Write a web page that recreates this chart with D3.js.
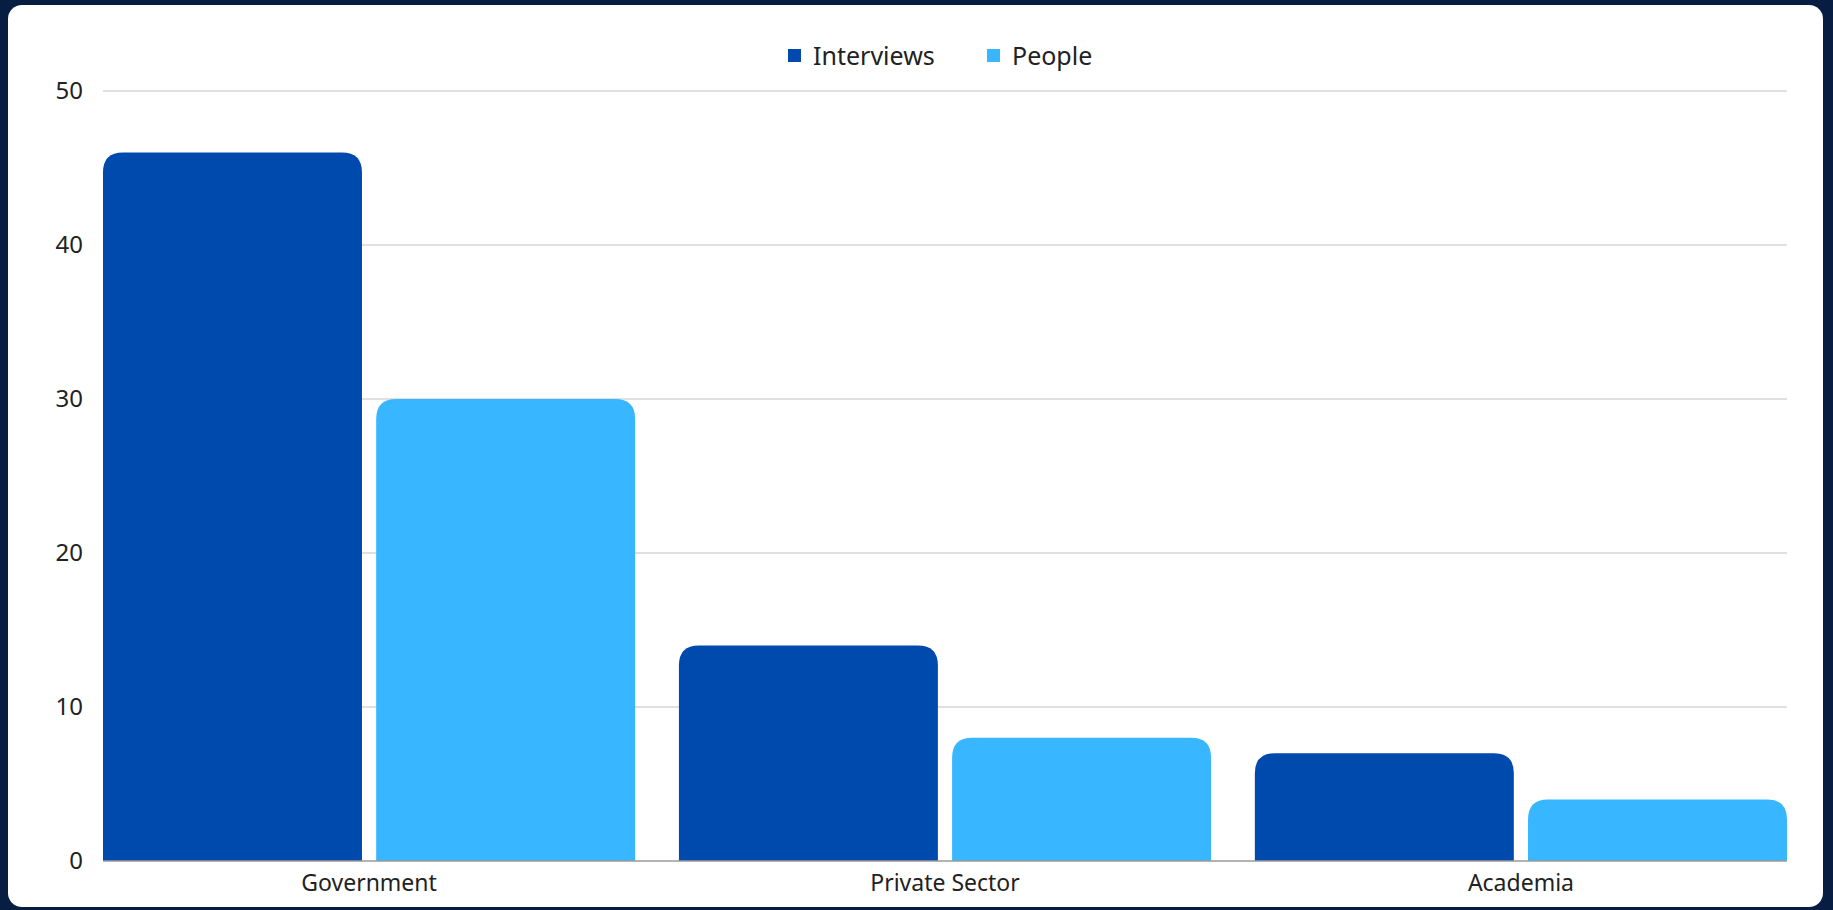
<!DOCTYPE html>
<html>
<head>
<meta charset="utf-8">
<script src="https://cdn.jsdelivr.net/npm/d3@7"></script>
<style>
  html, body { margin: 0; padding: 0; background: #081d42; }
  svg { display: block; font-family: "Noto Sans", "Open Sans", sans-serif; }
</style>
</head>
<body>
<div id="chart"></div>
<script>
const categories = ['Government', 'Private Sector', 'Academia'];
const seriesNames = ['Interviews', 'People'];
const interviews = [46, 14, 7];
const people = [30, 8, 4];
const yTicks = [0, 10, 20, 30, 40, 50];

const colors = ['#004aad', '#38b6ff'];

const width = 1833;
const height = 910;
const margin = { top: 91, right: 46, bottom: 49, left: 103 };
const chartWidth = width - margin.left - margin.right;
const chartHeight = height - margin.top - margin.bottom;

const rows = categories.map((c, i) => ({ category: c, values: [interviews[i], people[i]] }));

const svg = d3.select('#chart')
  .append('svg')
  .attr('width', width)
  .attr('height', height);

// white card
svg.append('rect')
  .attr('x', 8)
  .attr('y', 5)
  .attr('width', 1815)
  .attr('height', 902)
  .attr('rx', 14)
  .attr('fill', '#ffffff');

const g = svg.append('g')
  .attr('transform', `translate(${margin.left},${margin.top})`);

const x0 = d3.scaleBand()
  .domain(categories)
  .range([0, chartWidth])
  .paddingInner(0.076)
  .paddingOuter(0);

const x1 = d3.scaleBand()
  .domain([0, 1])
  .range([0, x0.bandwidth()])
  .paddingInner(0.052);

const y = d3.scaleLinear()
  .domain([0, 50])
  .range([chartHeight, 0]);

// gridlines
g.append('g')
  .selectAll('line')
  .data(yTicks.filter(t => t > 0))
  .enter()
  .append('line')
  .attr('x1', 0)
  .attr('x2', chartWidth)
  .attr('y1', d => y(d))
  .attr('y2', d => y(d))
  .attr('stroke', '#d6d6d6')
  .attr('stroke-width', 1.5);

// y axis labels
const yAxis = g.append('g')
  .attr('transform', 'translate(-20,0)')
  .call(d3.axisLeft(y).tickValues(yTicks).tickSize(0).tickPadding(0));
yAxis.select('.domain').remove();
yAxis.selectAll('text')
  .attr('fill', '#222')
  .style('font-size', '24px')
  .style('font-family', '"Noto Sans", "Open Sans", sans-serif');

// bars with rounded tops
function topRounded(x, yTop, w, h, r) {
  r = Math.min(r, h, w / 2);
  return `M${x},${yTop + h}V${yTop + r}Q${x},${yTop} ${x + r},${yTop}` +
    `H${x + w - r}Q${x + w},${yTop} ${x + w},${yTop + r}V${yTop + h}Z`;
}

const groups = g.selectAll('.grp')
  .data(rows)
  .enter()
  .append('g')
  .attr('class', 'grp')
  .attr('transform', d => `translate(${x0(d.category)},0)`);

groups.selectAll('path')
  .data(d => d.values.map((v, i) => ({ v, i })))
  .enter()
  .append('path')
  .attr('d', d => topRounded(x1(d.i), y(d.v), x1.bandwidth(), chartHeight - y(d.v), 20))
  .attr('fill', d => colors[d.i]);

// baseline
g.append('line')
  .attr('x1', 0)
  .attr('x2', chartWidth)
  .attr('y1', chartHeight)
  .attr('y2', chartHeight)
  .attr('stroke', '#9a9a9a')
  .attr('stroke-width', 1.5);

// x axis labels
const xAxis = g.append('g')
  .attr('transform', `translate(0,${chartHeight})`)
  .call(d3.axisBottom(x0).tickSize(0).tickPadding(14));
xAxis.select('.domain').remove();
xAxis.selectAll('text')
  .attr('fill', '#222')
  .style('font-size', '23px')
  .style('font-family', '"Noto Sans", "Open Sans", sans-serif');

// legend
const legend = svg.append('g');
const legendItems = [
  { name: seriesNames[0], x: 788 },
  { name: seriesNames[1], x: 987 }
];
legendItems.forEach((d, i) => {
  legend.append('rect')
    .attr('x', d.x)
    .attr('y', 49)
    .attr('width', 13)
    .attr('height', 13)
    .attr('fill', colors[i]);
  legend.append('text')
    .attr('x', d.x + 25)
    .attr('y', 56)
    .attr('dy', '0.35em')
    .attr('fill', '#222')
    .style('font-size', '25px')
    .text(d.name);
});
</script>
</body>
</html>
